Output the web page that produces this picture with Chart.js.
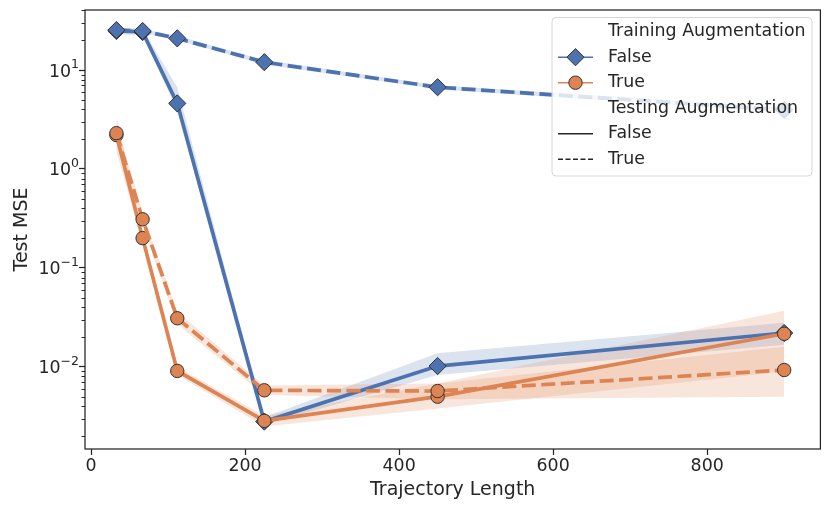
<!DOCTYPE html>
<html>
<head>
<meta charset="utf-8">
<script src="https://cdn.jsdelivr.net/npm/chart.js@4.4.1/dist/chart.umd.min.js"></script>
<style>
  html, body { margin: 0; padding: 0; background: #fff; }
  #wrap { width: 830px; height: 509px; }
</style>
</head>
<body>
<div id="wrap"><canvas id="mse"></canvas></div>
<script>
// trajectory lengths (x)
var lengths = [33, 67, 112, 225, 450, 900];

// Training augmentation = False
var noAugTestFalse   = [24.8, 24.2, 4.6, 0.0028, 0.0102, 0.022];
var noAugTestFalseLo = [23, 22.5, 3.9, 0.0026, 0.0083, 0.0167];
var noAugTestFalseHi = [26.5, 26, 6.7, 0.0031, 0.0137, 0.028];
var noAugTestTrue    = [25.3, 24.8, 20.9, 12.0, 6.7, 3.95];
var noAugTestTrueLo  = [24, 23.5, 20, 11.4, 6.4, 3.7];
var noAugTestTrueHi  = [26.5, 26, 22, 12.6, 7.0, 4.2];

// Training augmentation = True
var augTestFalse   = [2.2, 0.20, 0.0091, 0.00285, 0.0050, 0.0216];
var augTestFalseLo = [1.5, 0.18, 0.0083, 0.0025, 0.0038, 0.009];
var augTestFalseHi = [3.4, 0.22, 0.0100, 0.0032, 0.0068, 0.037];
var augTestTrue    = [2.3, 0.31, 0.031, 0.0058, 0.0057, 0.0093];
var augTestTrueLo  = [1.8, 0.27, 0.027, 0.0052, 0.0047, 0.005];
var augTestTrueHi  = [3.0, 0.36, 0.036, 0.0065, 0.0068, 0.016];

var xTicks = [0, 200, 400, 600, 800];
var yTicks = [0.01, 0.1, 1, 10];
var yTickExps = ['\u22122', '\u22121', '0', '1'];

var blue = '#4c72b0', orange = '#dd8452', ink = '#262626';
var font = 'DejaVu Sans';

function pts(ys) {
    return ys.map(function (y, i) { return {x: lengths[i], y: y}; });
}

// band = two datasets, upper fills down to lower
function band(lo, hi, rgba, order) {
    return [
        {data: pts(lo), borderWidth: 0, pointRadius: 0, fill: false, order: order},
        {data: pts(hi), borderWidth: 0, pointRadius: 0, fill: '-1', backgroundColor: rgba, order: order}
    ];
}

function line(ys, color, dashed, marker, order) {
    return {
        data: pts(ys),
        borderColor: color,
        borderWidth: 3.7,
        borderDash: dashed ? [14, 5.5] : [],
        pointStyle: marker,
        pointRadius: marker == 'rectRot' ? 8.6 : 6.7,
        pointBackgroundColor: color,
        pointBorderColor: '#333',
        pointBorderWidth: 1,
        fill: false,
        tension: 0,
        order: order
    };
}

var datasets = [].concat(
    band(noAugTestFalseLo, noAugTestFalseHi, 'rgba(76,114,176,0.2)', 20),
    [line(noAugTestFalse, blue, false, 'rectRot', 4)],
    band(noAugTestTrueLo, noAugTestTrueHi, 'rgba(76,114,176,0.2)', 19),
    [line(noAugTestTrue, blue, true, 'rectRot', 3)],
    band(augTestFalseLo, augTestFalseHi, 'rgba(221,132,82,0.2)', 18),
    [line(augTestFalse, orange, false, 'circle', 2)],
    band(augTestTrueLo, augTestTrueHi, 'rgba(221,132,82,0.2)', 17),
    [line(augTestTrue, orange, true, 'circle', 1)]
);

// frame, log tick labels, minor ticks and the seaborn style legend
var decor = {
    id: 'decor',
    afterDraw: function (chart) {
        var ctx = chart.ctx, a = chart.chartArea, ys = chart.scales.y;
        ctx.save();
        ctx.strokeStyle = ink;
        ctx.lineWidth = 1;
        for (var d = 0.001; d < 100; d *= 10) {
            for (var m = 2; m < 10; m++) {
                var v = m * d;
                if (v < ys.min || v > ys.max) continue;
                var py = Math.round(ys.getPixelForValue(v)) + 0.5;
                ctx.beginPath();
                ctx.moveTo(a.left, py);
                ctx.lineTo(a.left - 3.5, py);
                ctx.stroke();
            }
        }
        ctx.lineWidth = 1.25;
        ctx.strokeRect(a.left, a.top, a.right - a.left, a.bottom - a.top);

        // 10^n labels with a raised exponent
        ctx.fillStyle = ink;
        ctx.textBaseline = 'alphabetic';
        yTicks.forEach(function (v, i) {
            var py = ys.getPixelForValue(v);
            ctx.font = '12.5px "' + font + '"';
            var ew = ctx.measureText(yTickExps[i]).width;
            ctx.textAlign = 'left';
            ctx.fillText(yTickExps[i], 79 - ew, py - 2);
            ctx.font = '17.4px "' + font + '"';
            ctx.textAlign = 'right';
            ctx.fillText('10', 79 - ew, py + 6.5);
        });
        ctx.textAlign = 'left';

        // legend
        var lx = 552, ly = 17.5, lw = 260, lh = 158.5;
        ctx.beginPath();
        ctx.roundRect(lx, ly, lw, lh, 4);
        ctx.fillStyle = 'rgba(255,255,255,0.8)';
        ctx.fill();
        ctx.strokeStyle = '#d6d6d6';
        ctx.lineWidth = 1;
        ctx.stroke();

        var rows = [
            {t: 'Training Augmentation'},
            {t: 'False', c: blue, m: 'rectRot', w: 1.5},
            {t: 'True', c: orange, m: 'circle', w: 1.5},
            {t: 'Testing Augmentation'},
            {t: 'False', c: ink, w: 1.5},
            {t: 'True', c: ink, w: 1.5, dash: [5, 2.5]}
        ];
        ctx.font = '17.4px "' + font + '"';
        ctx.textBaseline = 'middle';
        rows.forEach(function (r, i) {
            var y = 31.7 + i * 25.5;
            ctx.fillStyle = ink;
            ctx.fillText(r.t, 608, y);
            if (!r.c) return;
            ctx.save();
            ctx.strokeStyle = r.c;
            ctx.lineWidth = r.w;
            ctx.setLineDash(r.dash || []);
            ctx.beginPath();
            ctx.moveTo(558, y);
            ctx.lineTo(593, y);
            ctx.stroke();
            ctx.restore();
            if (r.m) {
                ctx.fillStyle = r.c;
                ctx.strokeStyle = '#333';
                ctx.lineWidth = 1;
                Chart.helpers.drawPoint(ctx, {
                    pointStyle: r.m,
                    radius: r.m == 'rectRot' ? 8.6 : 6.7,
                    rotation: 0,
                    borderWidth: 1
                }, 575.5, y);
            }
        });
        ctx.restore();
    }
};

var ctx = document.getElementById('mse').getContext('2d');
var chart = new Chart(ctx, {
    type: 'line',
    data: {datasets: datasets},
    plugins: [decor],
    options: {
        responsive: true,
        maintainAspectRatio: false,
        animation: false,
        layout: {padding: {left: 0, top: 10, right: 8, bottom: 0}},
        plugins: {legend: {display: false}, tooltip: {enabled: false}},
        scales: {
            x: {
                type: 'linear',
                min: -7.8,
                max: 947,
                afterBuildTicks: function (s) { s.ticks = xTicks.map(function (v) { return {value: v}; }); },
                afterFit: function (s) { s.height = 60; },
                grid: {drawOnChartArea: false, tickLength: 6, tickColor: ink, tickWidth: 1.25},
                border: {display: false},
                ticks: {color: ink, font: {family: font, size: 17.4}, padding: 1, maxRotation: 0},
                title: {display: true, text: 'Trajectory Length', color: ink,
                        font: {family: font, size: 19}, padding: {top: 0, bottom: 7.5}}
            },
            y: {
                type: 'logarithmic',
                min: 0.00148,
                max: 40.4,
                afterBuildTicks: function (s) { s.ticks = yTicks.map(function (v) { return {value: v}; }); },
                afterFit: function (s) { s.width = 85; },
                grid: {drawOnChartArea: false, tickLength: 6, tickColor: ink, tickWidth: 1.25},
                border: {display: false},
                ticks: {display: false},
                title: {display: true, text: 'Test MSE', color: ink,
                        font: {family: font, size: 19}, padding: {top: 10.5, bottom: 0}}
            }
        }
    }
});
</script>
</body>
</html>
